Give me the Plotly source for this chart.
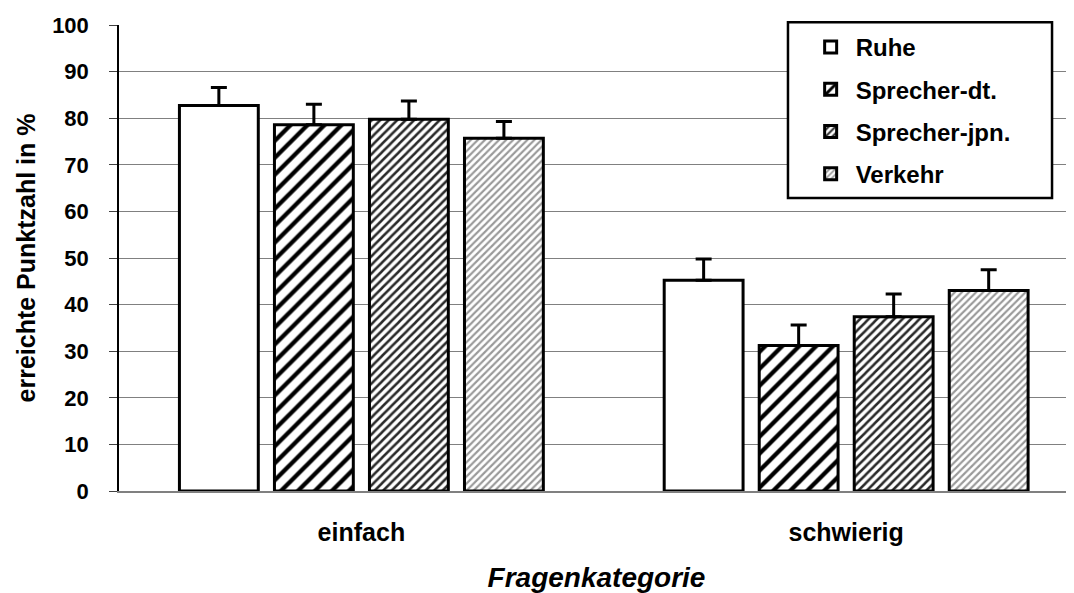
import plotly.graph_objects as go

# data
categories = ["einfach", "schwierig"]
series = ["Ruhe", "Sprecher-dt.", "Sprecher-jpn.", "Verkehr"]
ruhe = [82.7, 45.2]
sprecher_dt = [78.6, 31.2]
sprecher_jpn = [79.8, 37.4]
verkehr = [75.7, 43.0]
err_ruhe = [3.9, 4.6]
err_dt = [4.4, 4.4]
err_jpn = [3.9, 4.9]
err_verkehr = [3.6, 4.5]

values = [ruhe, sprecher_dt, sprecher_jpn, verkehr]
errors = [err_ruhe, err_dt, err_jpn, err_verkehr]

# fill style per series: (pattern shape, fg colour, size, solidity)
fills = [
    ("", "black", 8, 0.3),
    ("/", "black", 12, 0.36),
    ("/", "#2a2a2a", 6, 0.42),
    ("/", "#999999", 5, 0.42),
]

FONT = "Arial, Liberation Sans, sans-serif"

fig = go.Figure()
for i in range(len(series)):
    shape, fg, size, sol = fills[i]
    fig.add_trace(go.Bar(
        x=categories,
        y=values[i],
        name=series[i],
        legendgroup=series[i],
        marker=dict(
            color="white",
            line=dict(color="black", width=3),
            pattern=dict(shape=shape, fgcolor=fg, bgcolor="white",
                         size=size, solidity=sol, fgopacity=1),
        ),
        error_y=dict(type="data", array=errors[i], arrayminus=[0, 0],
                     symmetric=False, color="black", thickness=3, width=8),
    ))

# white box behind the legend
fig.add_shape(
    type="rect", xref="paper", yref="paper",
    x0=0.7005, x1=0.977, y0=0.629, y1=1.006,
    fillcolor="white", line=dict(color="black", width=2.5), layer="above",
)

# page body adds 8px, so the figure is 8px smaller than the window
fig.update_layout(
    width=1066, height=585,
    margin=dict(l=111, r=0, t=17, b=102, autoexpand=False),
    paper_bgcolor="white", plot_bgcolor="white",
    font=dict(family=FONT, color="black"),
    barmode="group",
    bargap=0.216,
    bargroupgap=0.17,
    showlegend=True,
    legend=dict(
        x=0.719, y=1.0, xanchor="left", yanchor="top",
        bgcolor="rgba(0,0,0,0)", borderwidth=0,
        font=dict(size=24, family=FONT, weight="bold"),
        traceorder="grouped", tracegroupgap=8,
        itemwidth=40,
    ),
)
fig.update_xaxes(
    range=[-0.5, 1.47],
    showline=True, linecolor="#808080", linewidth=2,
    ticks="", showgrid=False,
    tickfont=dict(size=25, family=FONT, weight="bold"),
    ticklabelstandoff=18,
    automargin=False,
    title=dict(text="<b><i>Fragenkategorie</i></b>", font=dict(size=28, family=FONT),
               standoff=22),
)
fig.update_yaxes(
    range=[0, 100], dtick=10,
    showline=True, linecolor="black", linewidth=1.5,
    ticks="outside", ticklen=8, tickcolor="#404040",
    showgrid=True, gridcolor="#808080", gridwidth=1,
    zeroline=False,
    tickfont=dict(size=22, family=FONT, weight="bold"),
    ticklabelstandoff=16,
    automargin=False,
    title=dict(text="<b>erreichte Punktzahl in %</b>", font=dict(size=25, family=FONT),
               standoff=9),
)

fig.write_html("out.html")
